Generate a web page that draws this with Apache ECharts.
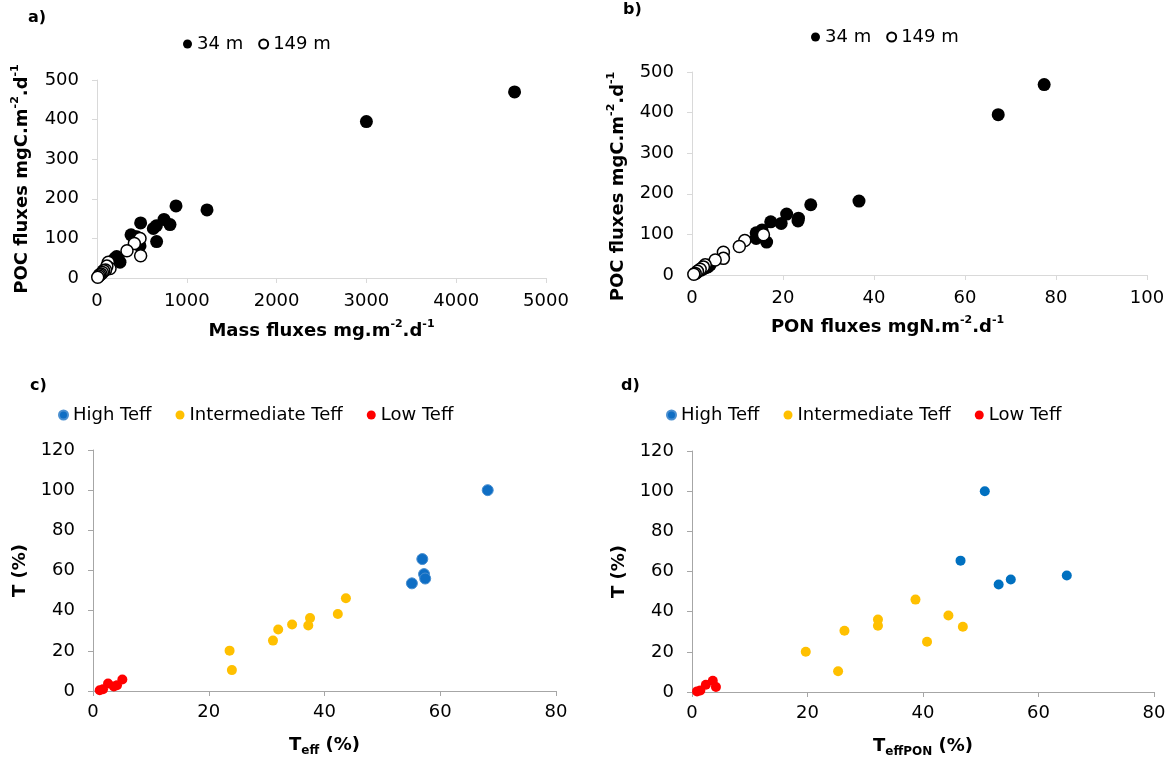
<!DOCTYPE html>
<html>
<head>
<meta charset="utf-8">
<script src="https://cdn.jsdelivr.net/npm/echarts@6/dist/echarts.min.js"></script>
<style>html,body{margin:0;padding:0;background:#fff}#c{width:1176px;height:765px}</style>
</head>
<body>
<div id="c"></div>
<script>
// Panel a: Mass flux (mg m-2 d-1) vs POC flux (mgC m-2 d-1)
const massPOC34 = [[4650,470],[3000,395],[1225,172],[880,182],[746,148],[813,135],[661,132],[627,125],[664,92],[486,139],[379,109],[442,104],[479,81],[256,40],[219,54],[200,50],[240,46],[180,44],[150,38],[130,30],[110,25],[90,22],[70,18],[50,12],[30,8]];
const massPOC149 = [[479,100],[416,87],[334,69],[486,56],[126,40],[145,24],[110,30],[95,20],[75,18],[60,14],[45,10],[30,8],[20,5],[8,2]];
// Panel b: PON flux (mgN m-2 d-1) vs POC flux
const ponPOC34 = [[77.4,469],[67.3,395],[36.7,182],[26.1,173],[20.8,150],[23.4,140],[23.3,133],[19.6,127],[17.3,131],[15.4,111],[14.1,104],[14.1,90],[16.4,81],[4.0,25],[3.5,20],[3.0,18],[2.5,15],[2.0,12],[1.5,10],[1.0,5]];
const ponPOC149 = [[15.7,99],[11.6,85],[10.4,70],[6.9,56],[6.9,41],[5.1,37],[2.9,25],[2.5,20],[1.8,14],[1.2,9],[0.7,4],[0.4,2]];
// Panel c: Teff (%) vs T (%)
const teffHigh = [[68.2,100],[56.9,65.7],[57.2,58.2],[57.4,56],[55.1,53.6]];
const teffMid = [[43.7,46.2],[42.3,38.3],[37.5,36.3],[37.2,32.6],[34.4,33.1],[32.0,30.6],[31.1,25.1],[23.6,20.1],[24.0,10.4]];
const teffLow = [[5.07,5.7],[4.15,2.9],[3.6,2.3],[2.6,3.7],[1.73,0.9],[1.16,0.4]];
// Panel d: TeffPON (%) vs T (%)
const teffPonHigh = [[50.7,100],[46.5,65.4],[53.1,53.5],[55.2,56],[64.9,58]];
const teffPonMid = [[38.7,46],[44.4,38.1],[32.2,36.1],[32.2,33],[46.9,32.5],[26.4,30.5],[40.7,25],[19.7,20],[25.3,10.3]];
const teffPonLow = [[3.6,5.6],[4.15,2.5],[2.4,3.6],[1.44,0.8],[0.87,0.3]];

const seriesNames34 = ['34 m','149 m'];
const teffNames = ['High Teff','Intermediate Teff','Low Teff'];

const FONT = 'DejaVu Sans';
const lightAxis = '#d9d9d9';
const darkAxis = '#a6a6a6';

function supRich(){
  return {
    b:{fontFamily:FONT,fontWeight:'bold',fontSize:18,color:'#000',lineHeight:24},
    s:{fontFamily:FONT,fontWeight:'bold',fontSize:11,color:'#000',lineHeight:12,verticalAlign:'top'},
    d:{fontFamily:FONT,fontWeight:'bold',fontSize:12,color:'#000',lineHeight:12,verticalAlign:'bottom'}
  };
}
function axisBase(color, labelMargin){
  return {
    type:'value',
    splitLine:{show:false},
    axisLine:{show:true,onZero:false,lineStyle:{color:color,width:1}},
    axisTick:{show:true,length:5,lineStyle:{color:color}},
    axisLabel:{fontFamily:FONT,fontSize:18,color:'#000',margin:labelMargin,formatter:function(v){return String(v);}},
    nameLocation:'middle'
  };
}
function mk(o, extra){ return Object.assign(o, extra); }

const chart = echarts.init(document.getElementById('c'), null, {renderer:'canvas'});
const option = {
  animation:false,
  backgroundColor:'#fff',
  grid:[
    {left:97, top:80, width:449, height:198},
    {left:692, top:72, width:455, height:203},
    {left:93, top:450, width:463, height:241},
    {left:692, top:451, width:462, height:241}
  ],
  xAxis:[
    mk(axisBase(lightAxis,14),{gridIndex:0,min:0,max:5000,interval:1000,name:'{b|Mass fluxes mg.m}{s|-2}{b|.d}{s|-1}',nameGap:41,nameTextStyle:{rich:supRich()}}),
    mk(axisBase(lightAxis,14),{gridIndex:1,min:0,max:100,interval:20,name:'{b|PON fluxes mgN.m}{s|-2}{b|.d}{s|-1}',nameGap:40,nameTextStyle:{rich:supRich(),padding:[0,64,0,0]}}),
    mk(axisBase(darkAxis,12),{gridIndex:2,min:0,max:80,interval:20,name:'{b|T}{d|eff}{b| (%)}',nameGap:42,nameTextStyle:{rich:supRich()}}),
    mk(axisBase(darkAxis,12),{gridIndex:3,min:0,max:80,interval:20,name:'{b|T}{d|effPON}{b| (%)}',nameGap:42,nameTextStyle:{rich:supRich()}})
  ],
  yAxis:[
    mk(axisBase(lightAxis,18),{gridIndex:0,min:0,max:500,interval:100,name:'{b|POC fluxes mgC.m}{s|-2}{b|.d}{s|-1}',nameRotate:90,nameGap:63,nameTextStyle:{rich:supRich()}}),
    mk(axisBase(lightAxis,18),{gridIndex:1,min:0,max:500,interval:100,name:'{b|POC fluxes mgC.m}{s|-2}{b|.d}{s|-1}',nameRotate:90,nameGap:62,nameTextStyle:{rich:supRich(),padding:[0,26,0,0]}}),
    mk(axisBase(darkAxis,18),{gridIndex:2,min:0,max:120,interval:20,name:'{b|T (%)}',nameRotate:90,nameGap:61,nameTextStyle:{rich:supRich()}}),
    mk(axisBase(darkAxis,18),{gridIndex:3,min:0,max:120,interval:20,name:'{b|T (%)}',nameRotate:90,nameGap:61,nameTextStyle:{rich:supRich()}})
  ],
  legend:[
    {data:seriesNames34, left:178, top:30, itemWidth:9, itemHeight:9, itemGap:15, icon:'circle',
     textStyle:{fontFamily:FONT,fontSize:18,color:'#000'}},
    {data:seriesNames34, left:806, top:23, itemWidth:9, itemHeight:9, itemGap:15, icon:'circle',
     textStyle:{fontFamily:FONT,fontSize:18,color:'#000'}},
    {data:teffNames, left:53, top:401, itemWidth:9, itemHeight:9, itemGap:24, icon:'circle',
     textStyle:{fontFamily:FONT,fontSize:18,color:'#000'}},
    {data:teffNames, left:661, top:401, itemWidth:9, itemHeight:9, itemGap:24, icon:'circle',
     textStyle:{fontFamily:FONT,fontSize:18,color:'#000'}}
  ],
  graphic:[
    {type:'text',left:28,top:10,style:{text:'a)',font:'bold 16px "DejaVu Sans"',fill:'#000'}},
    {type:'text',left:623,top:2,style:{text:'b)',font:'bold 16px "DejaVu Sans"',fill:'#000'}},
    {type:'text',left:30,top:378,style:{text:'c)',font:'bold 16px "DejaVu Sans"',fill:'#000'}},
    {type:'text',left:621,top:378,style:{text:'d)',font:'bold 16px "DejaVu Sans"',fill:'#000'}}
  ],
  series:[
    {name:'34 m',type:'scatter',xAxisIndex:0,yAxisIndex:0,data:massPOC34,symbolSize:13,itemStyle:{color:'#000',opacity:1}},
    {name:'149 m',type:'scatter',xAxisIndex:0,yAxisIndex:0,data:massPOC149,symbolSize:12,itemStyle:{color:'#fff',borderColor:'#000',borderWidth:1.5,opacity:1}},
    {name:'34 m',type:'scatter',xAxisIndex:1,yAxisIndex:1,data:ponPOC34,symbolSize:13,itemStyle:{color:'#000',opacity:1}},
    {name:'149 m',type:'scatter',xAxisIndex:1,yAxisIndex:1,data:ponPOC149,symbolSize:12,itemStyle:{color:'#fff',borderColor:'#000',borderWidth:1.5,opacity:1}},
    {name:'High Teff',type:'scatter',xAxisIndex:2,yAxisIndex:2,data:teffHigh,symbolSize:11,itemStyle:{color:'#0F6EC4',borderColor:'#4a8fd0',borderWidth:1,opacity:1}},
    {name:'Intermediate Teff',type:'scatter',xAxisIndex:2,yAxisIndex:2,data:teffMid,symbolSize:10,itemStyle:{color:'#FFC000',opacity:1}},
    {name:'Low Teff',type:'scatter',xAxisIndex:2,yAxisIndex:2,data:teffLow,symbolSize:10,itemStyle:{color:'#FF0000',opacity:1}},
    {name:'High Teff',type:'scatter',xAxisIndex:3,yAxisIndex:3,data:teffPonHigh,symbolSize:10,itemStyle:{color:'#0070C0',opacity:1}},
    {name:'Intermediate Teff',type:'scatter',xAxisIndex:3,yAxisIndex:3,data:teffPonMid,symbolSize:10,itemStyle:{color:'#FFC000',opacity:1}},
    {name:'Low Teff',type:'scatter',xAxisIndex:3,yAxisIndex:3,data:teffPonLow,symbolSize:10,itemStyle:{color:'#FF0000',opacity:1}}
  ]
};
chart.setOption(option);
</script>
</body>
</html>
